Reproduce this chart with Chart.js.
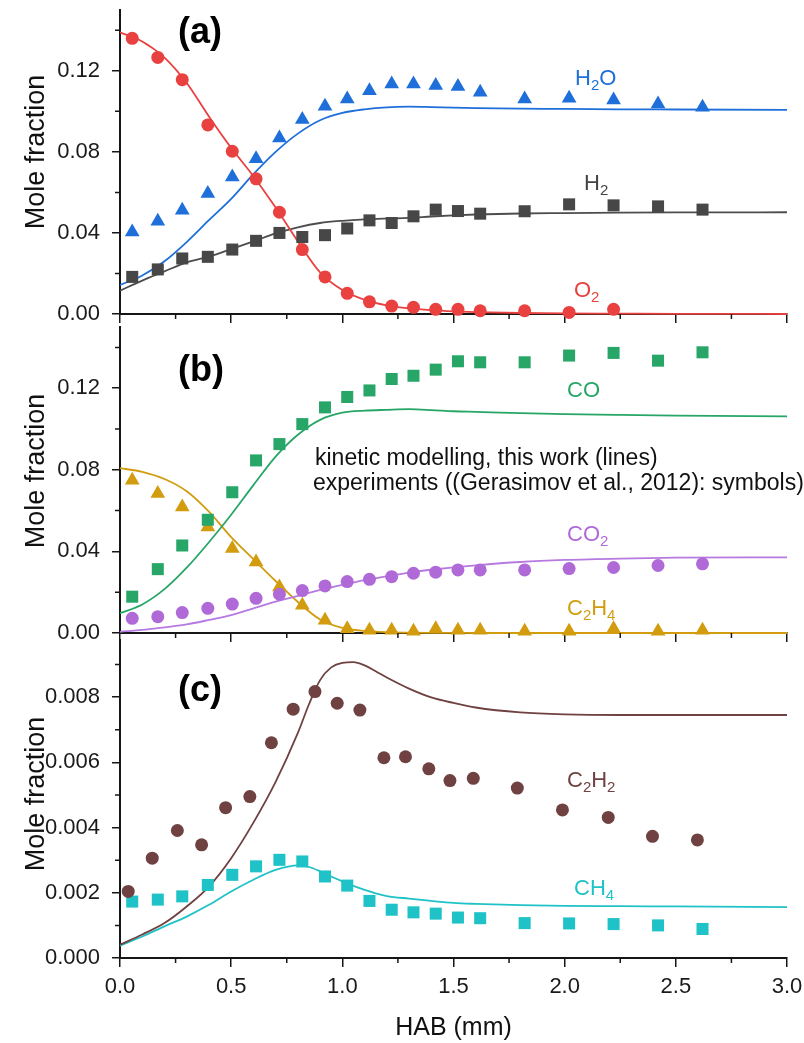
<!DOCTYPE html>
<html lang="en">
<head>
    <meta charset="UTF-8">
    <title>Mole fraction profiles vs HAB</title>
    <script src="https://cdn.jsdelivr.net/npm/chart.js"></script>
    <style>
        body { margin: 0; background: #fff; }
        #wrap { position: relative; width: 804px; height: 1043px; overflow: hidden; }
        #wrap canvas { position: absolute; left: 0; }
    </style>
</head>
<body>
    <div id="wrap">
        <canvas id="panelA" width="804" height="340" style="top:0px"></canvas>
        <canvas id="panelB" width="804" height="360" style="top:300px"></canvas>
        <canvas id="panelC" width="804" height="423" style="top:620px"></canvas>
    </div>

    <script>
        // HAB grid of the kinetic model (lines), panels (a) and (b)
        const hab = [0, 0.1, 0.2, 0.3, 0.4, 0.5, 0.6, 0.7, 0.8, 0.9, 1.0, 1.1, 1.2, 1.3, 1.4, 1.5, 1.6, 1.8, 2.0, 2.25, 2.5, 3.0];
        // finer grid around the peaks of panel (c)
        const habC = [0, 0.1, 0.2, 0.3, 0.4, 0.5, 0.6, 0.7, 0.8, 0.85, 0.9, 0.95, 1.0, 1.05, 1.1, 1.15, 1.2, 1.3, 1.4, 1.5, 1.6, 1.8, 2.0, 2.25, 2.5, 3.0];
        // HAB of the measurements (symbols)
        const expHab = [0.055, 0.17, 0.28, 0.395, 0.505, 0.612, 0.717, 0.82, 0.922, 1.022, 1.122, 1.222, 1.32, 1.42, 1.52, 1.62, 1.82, 2.02, 2.22, 2.42, 2.62];
        const c2h2Hab = [0.037, 0.145, 0.258, 0.367, 0.475, 0.584, 0.681, 0.779, 0.877, 0.977, 1.079, 1.187, 1.284, 1.389, 1.484, 1.589, 1.787, 1.99, 2.196, 2.395, 2.597];

        // panel (a)
        const o2Model  = [0.139, 0.1345, 0.1265, 0.114, 0.0975, 0.082, 0.068, 0.0525, 0.0358, 0.0205, 0.0118, 0.007, 0.0043, 0.0028, 0.0019, 0.0013, 0.0009, 0.0005, 0.0003, 0.0002, 0.0001, 0.0];
        const h2oModel = [0.0143, 0.019, 0.026, 0.0355, 0.0463, 0.0568, 0.069, 0.080, 0.089, 0.0956, 0.0992, 0.101, 0.102, 0.1023, 0.1021, 0.1018, 0.1016, 0.1013, 0.1012, 0.101, 0.1009, 0.1007];
        const h2Model  = [0.0115, 0.0165, 0.021, 0.0255, 0.0283, 0.032, 0.0358, 0.0398, 0.0428, 0.0449, 0.046, 0.0467, 0.0471, 0.0474, 0.0481, 0.0487, 0.0491, 0.0496, 0.0498, 0.05, 0.0501, 0.0502];
        const o2Exp  = [0.136, 0.1266, 0.1156, 0.0933, 0.0803, 0.0667, 0.0502, 0.0318, 0.0183, 0.0102, 0.006, 0.0039, 0.0033, 0.0023, 0.0023, 0.0016, 0.0016, 0.0008, 0.0023];
        const h2oExp = [0.0405, 0.0458, 0.0512, 0.0594, 0.0676, 0.0766, 0.0868, 0.096, 0.1025, 0.1061, 0.1102, 0.1135, 0.1135, 0.1127, 0.1123, 0.1094, 0.1061, 0.1064, 0.1056, 0.1036, 0.102];
        const h2Exp  = [0.0183, 0.022, 0.0274, 0.0282, 0.0318, 0.0361, 0.04, 0.038, 0.0389, 0.0422, 0.0462, 0.0449, 0.0482, 0.0515, 0.0508, 0.0495, 0.0507, 0.0541, 0.0536, 0.0531, 0.0515];

        // panel (b)
        const coModel   = [0.0097, 0.014, 0.0215, 0.032, 0.0445, 0.058, 0.0725, 0.0865, 0.0972, 0.1045, 0.108, 0.109, 0.1094, 0.1097, 0.1093, 0.1087, 0.1084, 0.1078, 0.1073, 0.1069, 0.1066, 0.1062];
        const co2Model  = [0.0006, 0.0015, 0.0028, 0.0042, 0.0064, 0.0088, 0.0121, 0.0154, 0.0182, 0.0211, 0.0236, 0.0259, 0.0278, 0.0296, 0.031, 0.0322, 0.0332, 0.0348, 0.0358, 0.0365, 0.0369, 0.0371];
        const c2h4Model = [0.0808, 0.079, 0.0755, 0.0695, 0.0595, 0.047, 0.0362, 0.0255, 0.0152, 0.0066, 0.0025, 0.001, 0.0004, 0.0002, 0.0001, 0.0001, 0, 0, 0, 0, 0, 0];
        const coExp   = [0.0178, 0.0313, 0.0429, 0.0555, 0.069, 0.0846, 0.0926, 0.1024, 0.1106, 0.1157, 0.1189, 0.1245, 0.1261, 0.1291, 0.1332, 0.1327, 0.1327, 0.136, 0.1373, 0.1335, 0.1376];
        const co2Exp  = [0.0072, 0.008, 0.01, 0.0121, 0.0142, 0.017, 0.019, 0.0208, 0.0231, 0.0252, 0.0263, 0.0276, 0.0293, 0.0298, 0.0309, 0.0309, 0.0309, 0.0316, 0.0321, 0.0331, 0.0339];
        const c2h4Exp = [0.0749, 0.0684, 0.0618, 0.052, 0.0414, 0.0348, 0.0226, 0.0136, 0.0062, 0.0021, 0.0013, 0.0013, 0.0008, 0.0021, 0.0013, 0.0013, 0.0008, 0.0008, 0.0021, 0.0008, 0.0013];

        // panel (c)
        const c2h2Model = [0.00041, 0.00072, 0.00107, 0.00158, 0.00219, 0.00306, 0.00415, 0.0054, 0.0069, 0.00778, 0.00852, 0.00891, 0.00905, 0.00907, 0.00897, 0.00879, 0.0086, 0.00826, 0.00799, 0.00782, 0.00768, 0.00753, 0.00747, 0.00745, 0.00745, 0.00745];
        const ch4Model  = [0.00038, 0.00066, 0.00097, 0.00127, 0.00163, 0.00204, 0.0024, 0.0027, 0.00284, 0.00279, 0.00266, 0.0025, 0.00235, 0.00221, 0.00209, 0.00198, 0.0019, 0.00182, 0.00175, 0.00169, 0.00166, 0.00162, 0.0016, 0.00159, 0.00158, 0.00156];
        const c2h2Exp = [0.00204, 0.00306, 0.00391, 0.00347, 0.00461, 0.00495, 0.0066, 0.00763, 0.00817, 0.00781, 0.0076, 0.00614, 0.00617, 0.0058, 0.00544, 0.00551, 0.00521, 0.00454, 0.00431, 0.00373, 0.00362];
        const ch4Exp  = [0.00173, 0.00179, 0.00189, 0.00224, 0.00255, 0.00281, 0.00301, 0.00296, 0.0025, 0.00222, 0.00175, 0.00148, 0.0014, 0.00136, 0.00124, 0.00122, 0.00107, 0.00106, 0.00104, 0.001, 0.00089];

        // ticks
        const xTicks = [0, 0.5, 1.0, 1.5, 2.0, 2.5, 3.0];
        const xMinor = [0.25, 0.75, 1.25, 1.75, 2.25, 2.75];
        const yTicksAB = [0, 0.04, 0.08, 0.12];
        const yMinorAB = [0.02, 0.06, 0.10, 0.14];
        const yTicksC = [0, 0.002, 0.004, 0.006, 0.008];
        const yMinorC = [0.001, 0.003, 0.005, 0.007, 0.009];

        const FONT = '"Liberation Sans", Arial, sans-serif';
        const AXIS = '#161616';

        function pts(xs, ys) {
            return ys.map((y, i) => ({ x: xs[i], y: y }));
        }

        function model(xs, ys, color) {
            return {
                data: pts(xs, ys), showLine: true, borderColor: color, borderWidth: 1.8,
                pointRadius: 0, cubicInterpolationMode: 'monotone', clip: false
            };
        }

        function symbols(xs, ys, style, radius, color) {
            return {
                data: pts(xs, ys), showLine: false, pointStyle: style, pointRadius: radius,
                backgroundColor: color, borderColor: color, borderWidth: 0, clip: false
            };
        }

        // draws text, digits following a letter become subscripts (H2O, C2H4 ...)
        function drawChem(ctx, text, x, y, size, color) {
            ctx.fillStyle = color;
            ctx.textAlign = 'left';
            ctx.textBaseline = 'alphabetic';
            let cx = x;
            for (let i = 0; i < text.length; i++) {
                const ch = text[i];
                const sub = /[0-9]/.test(ch) && i > 0 && /[A-Za-z]/.test(text[i - 1]);
                ctx.font = (sub ? Math.round(size * 0.66) : size) + 'px ' + FONT;
                ctx.fillText(ch, cx, sub ? y + size * 0.24 : y);
                cx += ctx.measureText(ch).width;
            }
        }

        const minorTicks = {
            id: 'minorTicks',
            afterDraw(chart, args, opts) {
                const ctx = chart.ctx;
                const sx = chart.scales.x, sy = chart.scales.y;
                ctx.save();
                ctx.strokeStyle = AXIS;
                ctx.lineWidth = 1.5;
                ctx.beginPath();
                opts.x.forEach(v => {
                    const px = sx.getPixelForValue(v);
                    ctx.moveTo(px, sx.top);
                    ctx.lineTo(px, sx.top + 5);
                });
                opts.y.forEach(v => {
                    const py = sy.getPixelForValue(v);
                    ctx.moveTo(sy.right, py);
                    ctx.lineTo(sy.right - 5, py);
                });
                ctx.stroke();
                ctx.restore();
            }
        };

        // panel letter, species names, y title; positions are page pixels
        const panelText = {
            id: 'panelText',
            afterDraw(chart, args, opts) {
                const ctx = chart.ctx;
                const top = opts.top;
                ctx.save();
                ctx.fillStyle = '#000';
                ctx.font = 'bold 36px ' + FONT;
                ctx.textAlign = 'left';
                ctx.textBaseline = 'alphabetic';
                ctx.fillText(opts.letter[0], opts.letter[1], opts.letter[2] - top);

                opts.labels.forEach(l => drawChem(ctx, l.text, l.x, l.y - top, l.size || 22, l.color));

                ctx.save();
                ctx.translate(37, opts.titleY - top);
                ctx.rotate(-Math.PI / 2);
                ctx.font = '27px ' + FONT;
                ctx.fillStyle = '#111';
                ctx.textAlign = 'center';
                ctx.textBaseline = 'middle';
                ctx.fillText('Mole fraction', 0, 0);
                ctx.restore();
                ctx.restore();
            }
        };

        function makePanel(id, cfg) {
            return new Chart(document.getElementById(id), {
                type: 'scatter',
                data: { datasets: cfg.datasets },
                options: {
                    responsive: false,
                    animation: false,
                    events: [],
                    layout: { padding: { top: cfg.padTop, right: 17, bottom: 0, left: 0 } },
                    plugins: {
                        legend: { display: false },
                        tooltip: { enabled: false },
                        minorTicks: { x: xMinor, y: cfg.yMinor },
                        panelText: cfg.text
                    },
                    scales: {
                        x: {
                            type: 'linear', min: 0, max: 3,
                            afterBuildTicks: s => { s.ticks = xTicks.map(v => ({ value: v })); },
                            afterFit: s => { s.height = cfg.xHeight; s.paddingLeft = 0; s.paddingRight = 0; },
                            grid: { drawOnChartArea: false, drawTicks: true, tickLength: 9, color: AXIS, lineWidth: 1.5 },
                            border: { display: true, color: AXIS, width: 2 },
                            ticks: {
                                display: cfg.xLabels, color: '#1a1a1a', padding: 7, maxRotation: 0,
                                font: { size: 22, family: FONT },
                                callback: v => Number(v).toFixed(1)
                            },
                            title: {
                                display: cfg.xLabels, text: 'HAB (mm)', color: '#111',
                                font: { size: 25, family: FONT }, padding: { top: 0, bottom: 0 }
                            }
                        },
                        y: {
                            type: 'linear', min: 0, max: cfg.yMax,
                            afterBuildTicks: s => { s.ticks = cfg.yTicks.map(v => ({ value: v })); },
                            afterFit: s => { s.width = 120; s.paddingTop = 0; s.paddingBottom = 0; },
                            grid: { drawOnChartArea: false, drawTicks: true, tickLength: 8, color: AXIS, lineWidth: 1.5 },
                            border: { display: true, color: AXIS, width: 2 },
                            ticks: {
                                color: '#1a1a1a', padding: 12,
                                font: { size: 22, family: FONT },
                                callback: v => Number(v).toFixed(cfg.yDigits)
                            }
                        }
                    }
                },
                plugins: [minorTicks, panelText]
            });
        }

        const C = {
            o2: '#e8413f', h2o: '#1e6fd9', h2: '#474747',
            co: '#27a667', co2: '#b06ad8', c2h4: '#d29c0e',
            c2h2: '#6f4141', ch4: '#1fc2c6'
        };

        makePanel('panelA', {
            padTop: 10, xHeight: 26, xLabels: false, yMax: 0.15, yTicks: yTicksAB, yMinor: yMinorAB, yDigits: 2,
            datasets: [
                symbols(expHab, o2Exp, 'circle', 6.5, C.o2),
                symbols(expHab, h2oExp, 'triangle', 8.5, C.h2o),
                symbols(expHab, h2Exp, 'rect', 8.5, C.h2),
                model(hab, o2Model, C.o2),
                model(hab, h2oModel, C.h2o),
                model(hab, h2Model, '#4d4d4d')
            ],
            text: {
                top: 0, letter: ['(a)', 178, 43], titleY: 152,
                labels: [
                    { text: 'H2O', x: 575, y: 85, color: C.h2o },
                    { text: 'H2', x: 584, y: 190, color: '#444' },
                    { text: 'O2', x: 574, y: 297, color: C.o2 }
                ]
            }
        });

        makePanel('panelB', {
            padTop: 27, xHeight: 27, xLabels: false, yMax: 0.15, yTicks: yTicksAB, yMinor: yMinorAB, yDigits: 2,
            datasets: [
                symbols(expHab, coExp, 'rect', 8.5, C.co),
                symbols(expHab, co2Exp, 'circle', 6.5, C.co2),
                symbols(expHab, c2h4Exp, 'triangle', 8.5, C.c2h4),
                model(hab, coModel, C.co),
                model(hab, co2Model, '#b67ae0'),
                model(hab, c2h4Model, C.c2h4)
            ],
            text: {
                top: 300, letter: ['(b)', 178, 381], titleY: 471,
                labels: [
                    { text: 'CO', x: 567, y: 397, color: C.co },
                    { text: 'kinetic modelling, this work (lines)', x: 315, y: 465, color: '#111', size: 23 },
                    { text: 'experiments ((Gerasimov et al., 2012): symbols)', x: 313, y: 490, color: '#111', size: 23 },
                    { text: 'CO2', x: 567, y: 541, color: C.co2 },
                    { text: 'C2H4', x: 567, y: 615, color: C.c2h4 }
                ]
            }
        });

        makePanel('panelC', {
            padTop: 20, xHeight: 85, xLabels: true, yMax: 0.00975, yTicks: yTicksC, yMinor: yMinorC, yDigits: 3,
            datasets: [
                symbols(c2h2Hab, c2h2Exp, 'circle', 6.5, C.c2h2),
                symbols(expHab, ch4Exp, 'rect', 8.5, C.ch4),
                model(habC, c2h2Model, C.c2h2),
                model(habC, ch4Model, C.ch4)
            ],
            text: {
                top: 620, letter: ['(c)', 178, 701], titleY: 794,
                labels: [
                    { text: 'C2H2', x: 567, y: 787, color: C.c2h2 },
                    { text: 'CH4', x: 574, y: 895, color: C.ch4 }
                ]
            }
        });
    </script>
</body>
</html>
